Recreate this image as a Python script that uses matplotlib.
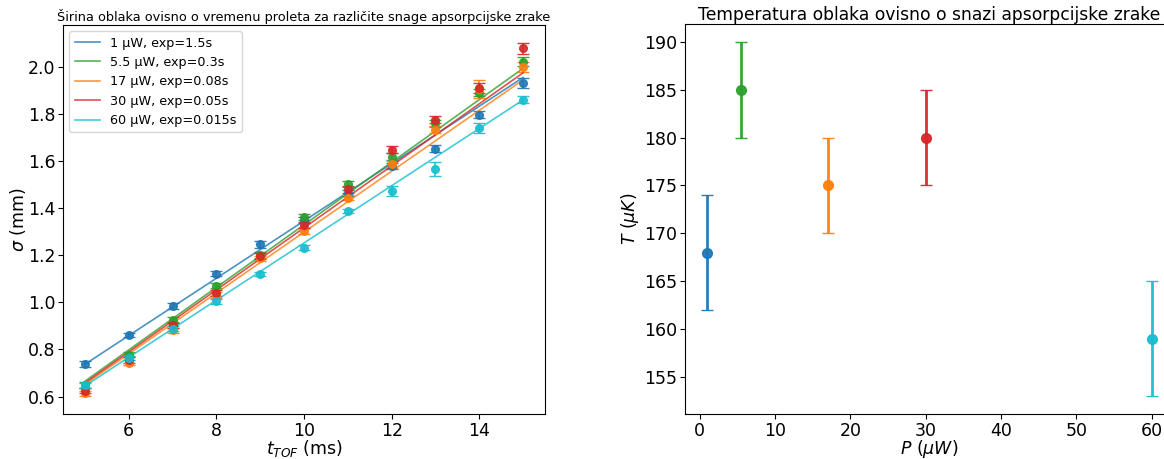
import numpy as np
import matplotlib
matplotlib.use("Agg")
import matplotlib.pyplot as plt

# ---- data ----
t_tof = [5, 6, 7, 8, 9, 10, 11, 12, 13, 14, 15]
labels = ["1 μW, exp=1.5s", "5.5 μW, exp=0.3s", "17 μW, exp=0.08s",
          "30 μW, exp=0.05s", "60 μW, exp=0.015s"]
colors = ["tab:blue", "tab:green", "tab:orange", "tab:red", "tab:cyan"]

sigma_1 = [0.737, 0.861, 0.984, 1.122, 1.246, 1.350, 1.465, 1.579, 1.652, 1.797, 1.931]
sigma_5 = [0.648, 0.778, 0.926, 1.071, 1.200, 1.364, 1.504, 1.618, 1.760, 1.891, 2.022]
sigma_17 = [0.613, 0.744, 0.881, 1.032, 1.187, 1.304, 1.445, 1.586, 1.734, 1.906, 1.999]
sigma_30 = [0.625, 0.755, 0.902, 1.040, 1.198, 1.328, 1.480, 1.649, 1.776, 1.910, 2.079]
sigma_60 = [0.648, 0.764, 0.888, 1.005, 1.121, 1.233, 1.388, 1.473, 1.567, 1.741, 1.861]

err_1 = [0.012, 0.010, 0.012, 0.010, 0.015, 0.012, 0.012, 0.012, 0.015, 0.015, 0.020]
err_5 = [0.012, 0.012, 0.010, 0.010, 0.012, 0.012, 0.012, 0.015, 0.015, 0.015, 0.020]
err_17 = [0.012, 0.012, 0.012, 0.012, 0.012, 0.012, 0.012, 0.015, 0.015, 0.040, 0.020]
err_30 = [0.012, 0.012, 0.012, 0.012, 0.012, 0.012, 0.015, 0.015, 0.015, 0.020, 0.024]
err_60 = [0.010, 0.010, 0.010, 0.010, 0.010, 0.010, 0.010, 0.020, 0.030, 0.020, 0.015]

# fitted lines (value at t=5 ms and t=15 ms)
fit_t = [5, 15]
fit_1 = [0.737, 1.955]
fit_5 = [0.665, 1.994]
fit_17 = [0.652, 1.945]
fit_30 = [0.658, 1.975]
fit_60 = [0.645, 1.860]

sigmas = [sigma_1, sigma_5, sigma_17, sigma_30, sigma_60]
errs = [err_1, err_5, err_17, err_30, err_60]
fits = [fit_1, fit_5, fit_17, fit_30, fit_60]

power = [1, 5.5, 17, 30, 60]
temp = [168, 185, 175, 180, 159]
temp_err = [6, 5, 5, 5, 6]

# ---- figure ----
W, H = 1164, 459
fig = plt.figure(figsize=(W / 100, H / 100), dpi=100)
ax1 = fig.add_axes([63 / W, (H - 414) / H, (545 - 63) / W, (414 - 25) / H])
ax2 = fig.add_axes([685 / W, (H - 414) / H, (1174 - 685) / W, (414 - 24) / H])

for s, e, f, c, lab in zip(sigmas, errs, fits, colors, labels):
    ax1.errorbar(t_tof, s, yerr=e, fmt="o", color=c, markersize=5.5,
                 capsize=4, elinewidth=1.2, ecolor=c, alpha=0.9)
    ax1.plot(fit_t, f, color=c, lw=1.2, alpha=0.8, label=lab)

ax1.set_title("Širina oblaka ovisno o vremenu proleta za različite snage apsorpcijske zrake",
              fontsize=9.3, pad=3)
ax1.set_xlabel("$t_{TOF}$ (ms)", fontsize=12.5, labelpad=-1)
ax1.set_ylabel("$\\sigma$ (mm)", fontsize=12.5, labelpad=0)
ax1.tick_params(labelsize=12.5, pad=2)
ax1.set_xticks([6, 8, 10, 12, 14])
ax1.legend(loc="upper left", fontsize=9.2, handlelength=2.0)

for p, T, e, c in zip(power, temp, temp_err, colors):
    ax2.errorbar([p], [T], yerr=[e], fmt="o", color=c, markersize=7,
                 capsize=4, elinewidth=2, ecolor=c, alpha=0.95)
ax2.set_title("Temperatura oblaka ovisno o snazi apsorpcijske zrake", fontsize=12.3, pad=1)
ax2.set_xlabel("$P$ $(\\mu W)$", fontsize=12.5, labelpad=-1)
ax2.set_ylabel("$T$ $(\\mu K)$", fontsize=12.5, labelpad=2)
ax2.tick_params(labelsize=12.5, pad=2)

fig.savefig("out.png", dpi=100)
